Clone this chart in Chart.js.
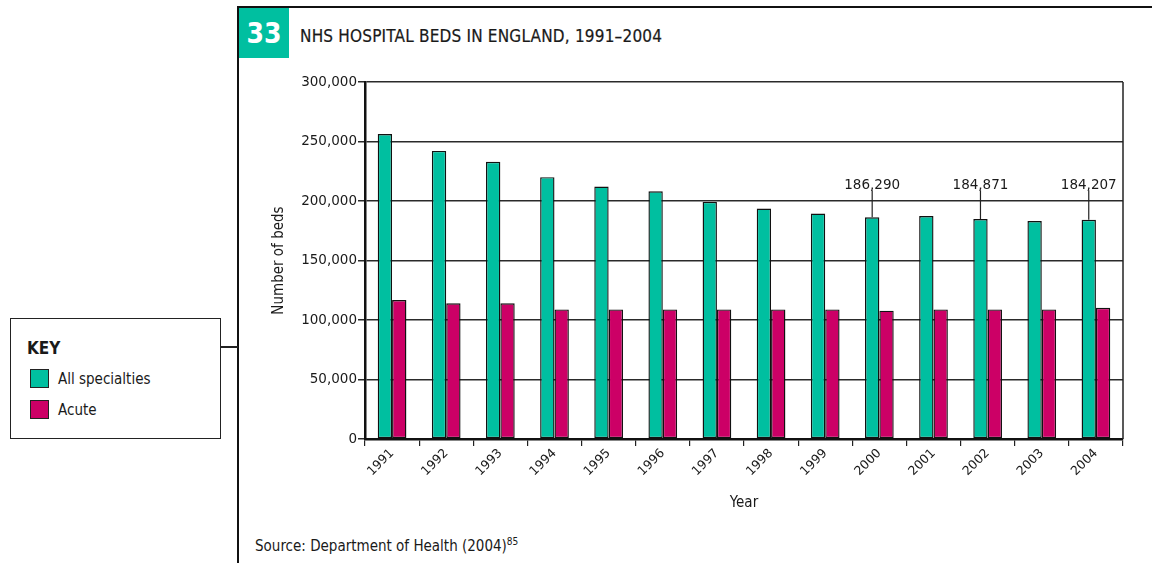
<!DOCTYPE html>
<html>
<head>
<meta charset="utf-8">
<script src="https://cdn.jsdelivr.net/npm/chart.js@4"></script>
<style>
  body { margin: 0; background: #fff; width: 1152px; height: 563px; position: relative; overflow: hidden;
         font-family: "Liberation Sans Narrow", "DejaVu Sans Condensed", sans-serif; color: #1a1a1a; }
  .vline { position: absolute; left: 237px; top: 7px; width: 2px; height: 560px; background: #111; }
  .hline { position: absolute; left: 237px; top: 6px; width: 915px; height: 2px; background: #111; }
  .num { position: absolute; left: 239px; top: 8px; width: 50px; height: 50px; background: #00bfa0;
         color: #fff; font: bold 28px "Liberation Sans Narrow", "DejaVu Sans Condensed", sans-serif;
         line-height: 52px; text-align: center; }
  .title { position: absolute; left: 300px; top: 26px; font-size: 17px; letter-spacing: 0.2px;
           -webkit-text-stroke: 0.2px #1a1a1a; }
  .key { position: absolute; left: 10px; top: 318px; width: 209px; height: 119px; border: 1.5px solid #222; }
  .key h4 { margin: 0; position: absolute; left: 16px; top: 19px; font-size: 17px; font-weight: bold; }
  .key .row { position: absolute; left: 19px; font-size: 15px; }
  .key .sw { display: inline-block; width: 17px; height: 17px; border: 1.5px solid #222;
             vertical-align: -4px; margin-right: 9px; }
  .conn { position: absolute; left: 221px; top: 346px; width: 17px; height: 1.5px; background: #222; }
  .source { position: absolute; left: 255px; top: 536px; font-size: 15px; }
  .source sup { font-size: 10px; }
  #wrap { position: absolute; left: 255px; top: 70px; width: 880px; height: 460px; }
</style>
</head>
<body>
<div class="hline"></div>
<div class="vline"></div>
<div class="num">33</div>
<div class="title">NHS HOSPITAL BEDS IN ENGLAND, 1991–2004</div>
<div class="key" id="key"><h4>KEY</h4></div>
<div class="conn"></div>
<div class="source">Source: Department of Health (2004)<sup>85</sup></div>
<div id="wrap"><canvas id="chart"></canvas></div>

<script>
const years = ['1991', '1992', '1993', '1994', '1995', '1996', '1997', '1998', '1999', '2000', '2001', '2002', '2003', '2004'];
const allSpecialties = [256200, 242100, 232900, 220000, 212100, 208200, 199200, 193600, 189400, 186290, 187300, 184871, 183100, 184207];
const acute = [116800, 114000, 114000, 108900, 108900, 108900, 108900, 108900, 108900, 107800, 108900, 108900, 108900, 110300];
const seriesNames = ['All specialties', 'Acute'];
const seriesColors = ['#00bfa0', '#cc0066'];
const yTicks = [0, 50000, 100000, 150000, 200000, 250000, 300000];
const annotatedYears = ['2000', '2002', '2004'];

// key box built from the series names
const key = document.getElementById('key');
seriesNames.forEach((name, i) => {
  const row = document.createElement('div');
  row.className = 'row';
  row.style.top = (50 + i * 31) + 'px';
  row.innerHTML = `<span class="sw" style="background:${seriesColors[i]}"></span>${name}`;
  key.appendChild(row);
});

const fmt = v => v.toLocaleString('en-GB');

// right border of plot + value callouts
const extras = {
  id: 'extras',
  afterDatasetsDraw(chart) {
    const { ctx, chartArea, scales } = chart;
    ctx.save();
    ctx.strokeStyle = '#222';
    ctx.lineWidth = 1.5;
    ctx.beginPath();
    ctx.moveTo(chartArea.right, chartArea.top);
    ctx.lineTo(chartArea.right, chartArea.bottom);
    ctx.stroke();

    const meta = chart.getDatasetMeta(0);
    ctx.font = '13.5px "DejaVu Sans", sans-serif';
    ctx.fillStyle = '#1a1a1a';
    ctx.textAlign = 'center';
    ctx.textBaseline = 'alphabetic';
    annotatedYears.forEach(yr => {
      const i = years.indexOf(yr);
      const bar = meta.data[i];
      const top = scales.y.getPixelForValue(209000);
      ctx.lineWidth = 1.2;
      ctx.beginPath();
      ctx.moveTo(bar.x, bar.y);
      ctx.lineTo(bar.x, top);
      ctx.stroke();
      ctx.fillText(fmt(allSpecialties[i]), bar.x, scales.y.getPixelForValue(209000) - 1);
    });
    ctx.restore();
  }
};

new Chart(document.getElementById('chart'), {
  type: 'bar',
  data: {
    labels: years,
    datasets: [
      { label: seriesNames[0], data: allSpecialties, backgroundColor: seriesColors[0] },
      { label: seriesNames[1], data: acute, backgroundColor: seriesColors[1] }
    ].map(d => Object.assign(d, {
      borderColor: '#111', borderWidth: 1.4, borderSkipped: false,
      categoryPercentage: 0.53, barPercentage: 1.0
    }))
  },
  options: {
    responsive: true,
    maintainAspectRatio: false,
    animation: false,
    layout: { padding: { top: 12, right: 12, left: 0, bottom: 0 } },
    plugins: { legend: { display: false }, tooltip: { enabled: false } },
    scales: {
      x: {
        afterFit: s => { s.height = 91; },
        grid: { display: true, drawOnChartArea: false, tickLength: 7, color: '#222', lineWidth: 1.2 },
        border: { color: '#111', width: 2.5 },
        ticks: { minRotation: 45, maxRotation: 45, color: '#1a1a1a', font: { family: 'DejaVu Sans', size: 12.5 }, padding: 0 },
        title: { display: true, text: 'Year', color: '#1a1a1a', padding: { top: 0, bottom: 18 },
                 font: { family: '"Liberation Sans Narrow", "DejaVu Sans Condensed", sans-serif', size: 15 } }
      },
      y: {
        min: 0, max: 300000,
        afterFit: s => { s.width = 110; },
        afterBuildTicks: s => { s.ticks = yTicks.map(v => ({ value: v })); },
        grid: { color: '#2a2a2a', lineWidth: 1.5, tickLength: 7 },
        border: { color: '#111', width: 2.5 },
        ticks: { color: '#1a1a1a', padding: 1, font: { family: 'DejaVu Sans', size: 13.5 }, callback: v => fmt(v) },
        title: { display: true, text: 'Number of beds', color: '#1a1a1a', padding: { top: 15, bottom: 0 },
                 font: { family: '"Liberation Sans Narrow", "DejaVu Sans Condensed", sans-serif', size: 15 } }
      }
    }
  },
  plugins: [extras]
});
</script>
</body>
</html>
